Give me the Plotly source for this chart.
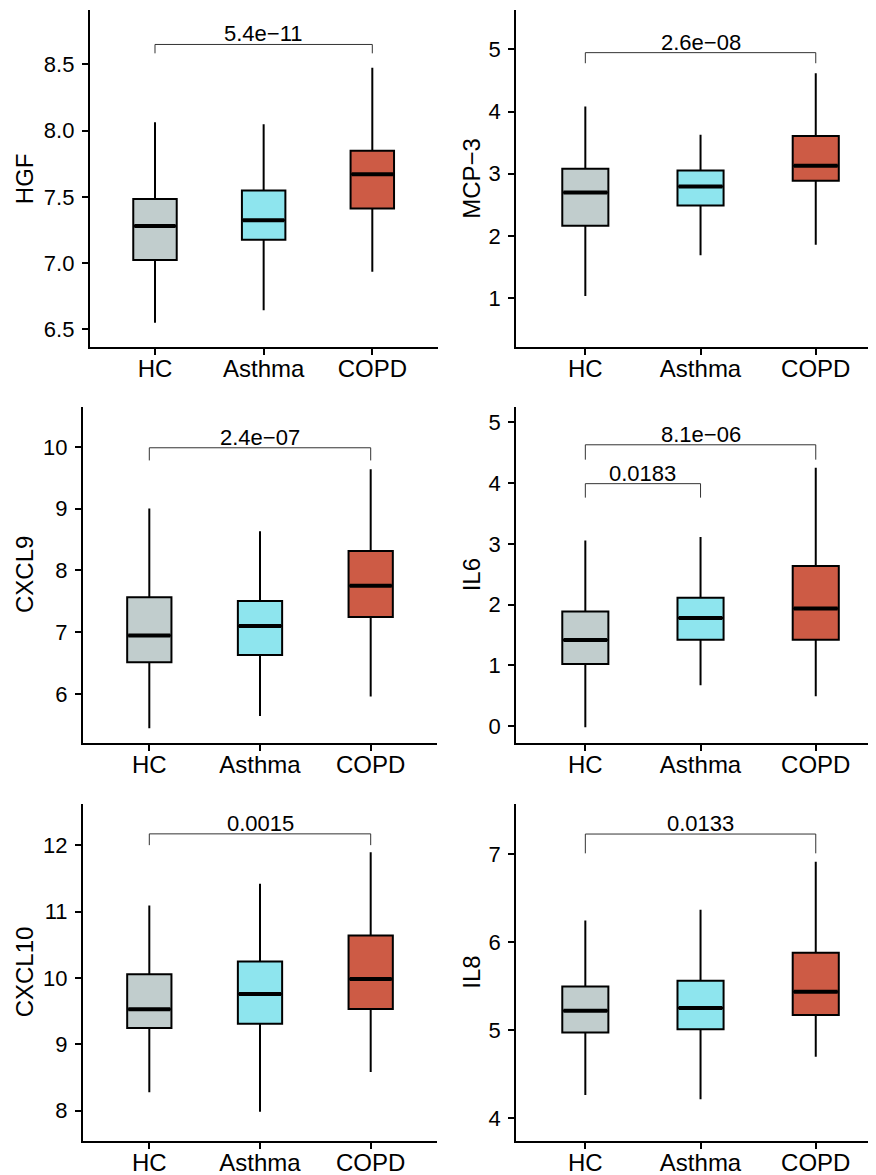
import plotly.graph_objects as go

# ---------------- data ----------------
groups = ["HC", "Asthma", "COPD"]
markers = ["HGF", "MCP\u22123", "CXCL9", "IL6", "CXCL10", "IL8"]

whisker_low = [[6.55, 6.645, 6.934], [1.037, 1.69, 1.86], [5.445, 5.644, 5.957],
               [-0.02, 0.672, 0.49], [8.277, 7.985, 8.583], [4.265, 4.216, 4.70]]
q1 = [[7.023, 7.176, 7.413], [2.165, 2.49, 2.888], [6.513, 6.631, 7.243],
      [1.023, 1.42, 1.42], [9.246, 9.31, 9.533], [4.973, 5.011, 5.174]]
median = [[7.281, 7.324, 7.671], [2.70, 2.796, 3.128], [6.947, 7.10, 7.751],
          [1.416, 1.78, 1.934], [9.528, 9.759, 9.985], [5.222, 5.253, 5.438]]
q3 = [[7.483, 7.548, 7.847], [3.08, 3.053, 3.605], [7.563, 7.503, 8.312],
      [1.885, 2.11, 2.634], [10.056, 10.246, 10.638], [5.495, 5.563, 5.879]]
whisker_high = [[8.063, 8.048, 8.474], [4.08, 3.626, 4.615], [9.0, 8.634, 9.639],
                [3.056, 3.11, 4.252], [11.09, 11.42, 11.894], [6.245, 6.367, 6.913]]

comparisons = [[("HC", "COPD")], [("HC", "COPD")], [("HC", "COPD")],
               [("HC", "COPD"), ("HC", "Asthma")], [("HC", "COPD")], [("HC", "COPD")]]
p_labels = [["5.4e\u221211"], ["2.6e\u221208"], ["2.4e\u221207"],
            ["8.1e\u221206", "0.0183"], ["0.0015"], ["0.0133"]]
bracket_y = [[8.65], [4.945], [9.985], [4.63, 3.99], [12.17], [7.227]]
bracket_tip = [[8.583], [4.775], [9.78], [4.385, 3.76], [12.0], [7.008]]

y_ranges = [[6.367, 8.91], [0.218, 5.63], [5.2, 10.65], [-0.284, 5.257],
            [7.548, 12.62], [3.746, 7.568]]
y_dtick = [0.5, 1, 1, 1, 1, 1]
y_format = [".1f", "d", "d", "d", "d", "d"]

fill_colors = ["#C1CDCD", "#8EE5EE", "#CD5B45"]

# ---------------- layout geometry (page pixels) ----------------
OFF = 8                      # default body margin of the html page
PAGE_W, PAGE_H = 876, 1175
W, H = PAGE_W - OFF, PAGE_H - OFF
# (axis left px, axis right px, top px, bottom px, x range max) in page px
panel_px = [
    (89.8, 437.5, 10, 347, 3.6),
    (516.2, 876, 10, 347, 3.523),
    (82.9, 437.1, 406.7, 743.3, 3.6),
    (516.2, 876, 406.7, 743.3, 3.523),
    (82.9, 437.1, 804, 1140.7, 3.6),
    (516.2, 876, 804, 1140.7, 3.523),
]
title_x_px = [24.7, 471.3, 24.0, 471.3, 24.0, 471.3]


def fx(p):
    return min(max((p - OFF) / W, 0.0), 1.0)


def fy(p):
    return min(max(1 - (p - OFF) / H, 0.0), 1.0)


FONT = "Liberation Sans, Arial, Helvetica, sans-serif"
pos = {g: i + 1 for i, g in enumerate(groups)}
BOXW = 0.4

fig = go.Figure()
layout = dict(width=W, height=H, margin=dict(l=0, r=0, t=0, b=0),
              paper_bgcolor="white", plot_bgcolor="white", showlegend=False,
              font=dict(family=FONT, color="black"))
annotations = []

for k, name in enumerate(markers):
    sx = "" if k == 0 else str(k + 1)
    xa, ya = "x" + sx, "y" + sx
    for gi, g in enumerate(groups):
        fig.add_trace(go.Box(
            x=[pos[g]], q1=[q1[k][gi]], median=[median[k][gi]], q3=[q3[k][gi]],
            lowerfence=[whisker_low[k][gi]], upperfence=[whisker_high[k][gi]],
            width=BOXW, whiskerwidth=0, boxpoints=False,
            fillcolor=fill_colors[gi], line=dict(color="black", width=2),
            xaxis=xa, yaxis=ya, hoverinfo="skip", name=g))
        fig.add_trace(go.Scatter(
            x=[pos[g] - BOXW / 2 + 0.01, pos[g] + BOXW / 2 - 0.01],
            y=[median[k][gi], median[k][gi]], mode="lines",
            line=dict(color="black", width=4), xaxis=xa, yaxis=ya,
            hoverinfo="skip"))
    for ci, (a, b) in enumerate(comparisons[k]):
        xa_, xb_ = pos[a], pos[b]
        fig.add_trace(go.Scatter(
            x=[xa_, xa_, xb_, xb_],
            y=[bracket_tip[k][ci], bracket_y[k][ci], bracket_y[k][ci], bracket_tip[k][ci]],
            mode="lines", line=dict(color="#333333", width=1),
            xaxis=xa, yaxis=ya, hoverinfo="skip"))
        annotations.append(dict(
            x=(xa_ + xb_) / 2, y=bracket_y[k][ci], xref=xa, yref=ya,
            text=p_labels[k][ci], showarrow=False, yanchor="bottom",
            yshift=-4, font=dict(size=22, family=FONT, color="black")))

    l, r, t, b, xmax = panel_px[k]
    layout["xaxis" + sx] = dict(
        domain=[fx(l), fx(r)], range=[0.4, xmax], anchor=ya,
        tickvals=[pos[g] for g in groups], ticktext=groups,
        showline=True, linecolor="black", linewidth=2, mirror=False,
        ticks="outside", ticklen=6, tickwidth=2, tickcolor="black",
        ticklabelstandoff=-7,
        showgrid=False, zeroline=False,
        tickfont=dict(size=24, family=FONT, color="black"))
    layout["yaxis" + sx] = dict(
        domain=[fy(b), fy(t)], range=y_ranges[k], anchor=xa,
        dtick=y_dtick[k], tick0=0, tickformat=y_format[k],
        showline=True, linecolor="black", linewidth=2,
        ticks="outside", ticklen=6, tickwidth=2, tickcolor="black",
        ticklabelstandoff=3,
        showgrid=False, zeroline=False,
        tickfont=dict(size=22, family=FONT, color="black"))
    annotations.append(dict(
        x=fx(title_x_px[k]), y=fy((t + b) / 2), xref="paper", yref="paper",
        text=name, textangle=-90, showarrow=False, xanchor="center", yanchor="middle",
        font=dict(size=24, family=FONT, color="black")))

layout["annotations"] = annotations
fig.update_layout(**layout)
fig.write_html("out.html")
